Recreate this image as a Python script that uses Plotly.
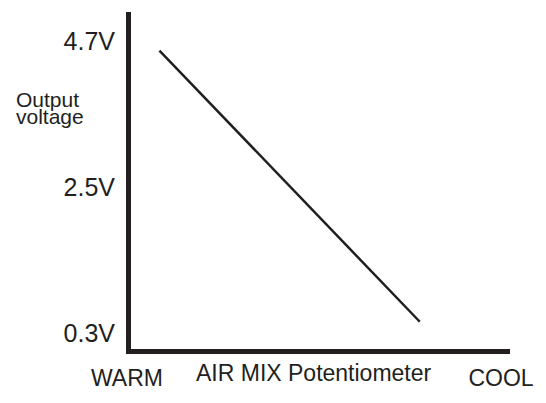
import plotly.graph_objects as go

# Data (schematic values)
pot_position = [7.5, 76.2]          # % of AIR MIX potentiometer travel (WARM=0, COOL=100)
output_voltage = [4.56, 0.48]       # V
y_tick_vals = [0.3, 2.5, 4.7]
y_tick_text = ["0.3V", "2.5V", "4.7V"]
x_tick_vals = [0, 98.7]
x_tick_text = ["WARM", "COOL"]
x_title = "AIR MIX Potentiometer"
y_title_lines = ["Output", "voltage"]

INK = "#231f20"
FONT = "Liberation Sans, Arial, Helvetica, sans-serif"

fig = go.Figure()
fig.add_trace(go.Scatter(
    x=pot_position, y=output_voltage, mode="lines",
    line=dict(color=INK, width=2.5), showlegend=False, hoverinfo="skip",
))

W, H = 546, 403
L, R, T, B = 131, 29, 12, 42
fig.update_layout(
    width=W, height=H,
    margin=dict(l=L, r=R, t=T, b=B, pad=0),
    paper_bgcolor="white", plot_bgcolor="white",
    font=dict(family=FONT, color=INK),
)
fig.update_xaxes(
    range=[0, 100], showgrid=False, zeroline=False,
    showline=True, linecolor=INK, linewidth=5,
    ticks="", tickvals=x_tick_vals, ticktext=x_tick_text,
    tickfont=dict(size=23, color=INK, family=FONT),
    ticklabelstandoff=4, ticklabelshift=-4,
)
fig.update_yaxes(
    range=[0.07, 5.14], showgrid=False, zeroline=False,
    showline=True, linecolor=INK, linewidth=5,
    ticks="", tickvals=y_tick_vals, ticktext=y_tick_text,
    tickfont=dict(size=25, color=INK, family=FONT),
    ticklabelstandoff=6,
)

pw = W - L - R
ph = H - T - B
def px(x):
    return (x - L) / pw
def py(y):
    return (H - B - y) / ph

fig.add_annotation(text=x_title, xref="paper", yref="paper",
                   x=px(317), y=py(386), xanchor="center", yanchor="middle",
                   showarrow=False, font=dict(size=23, color=INK, family=FONT))
fig.add_annotation(text=y_title_lines[0], xref="paper", yref="paper",
                   x=px(12), y=py(102.5), xanchor="left", yanchor="middle",
                   showarrow=False, font=dict(size=21, color=INK, family=FONT))
fig.add_annotation(text=y_title_lines[1], xref="paper", yref="paper",
                   x=px(12), y=py(120), xanchor="left", yanchor="middle",
                   showarrow=False, font=dict(size=21, color=INK, family=FONT))

fig.write_html("out.html", config={"displayModeBar": False},
               post_script="document.body.style.margin='0';")
